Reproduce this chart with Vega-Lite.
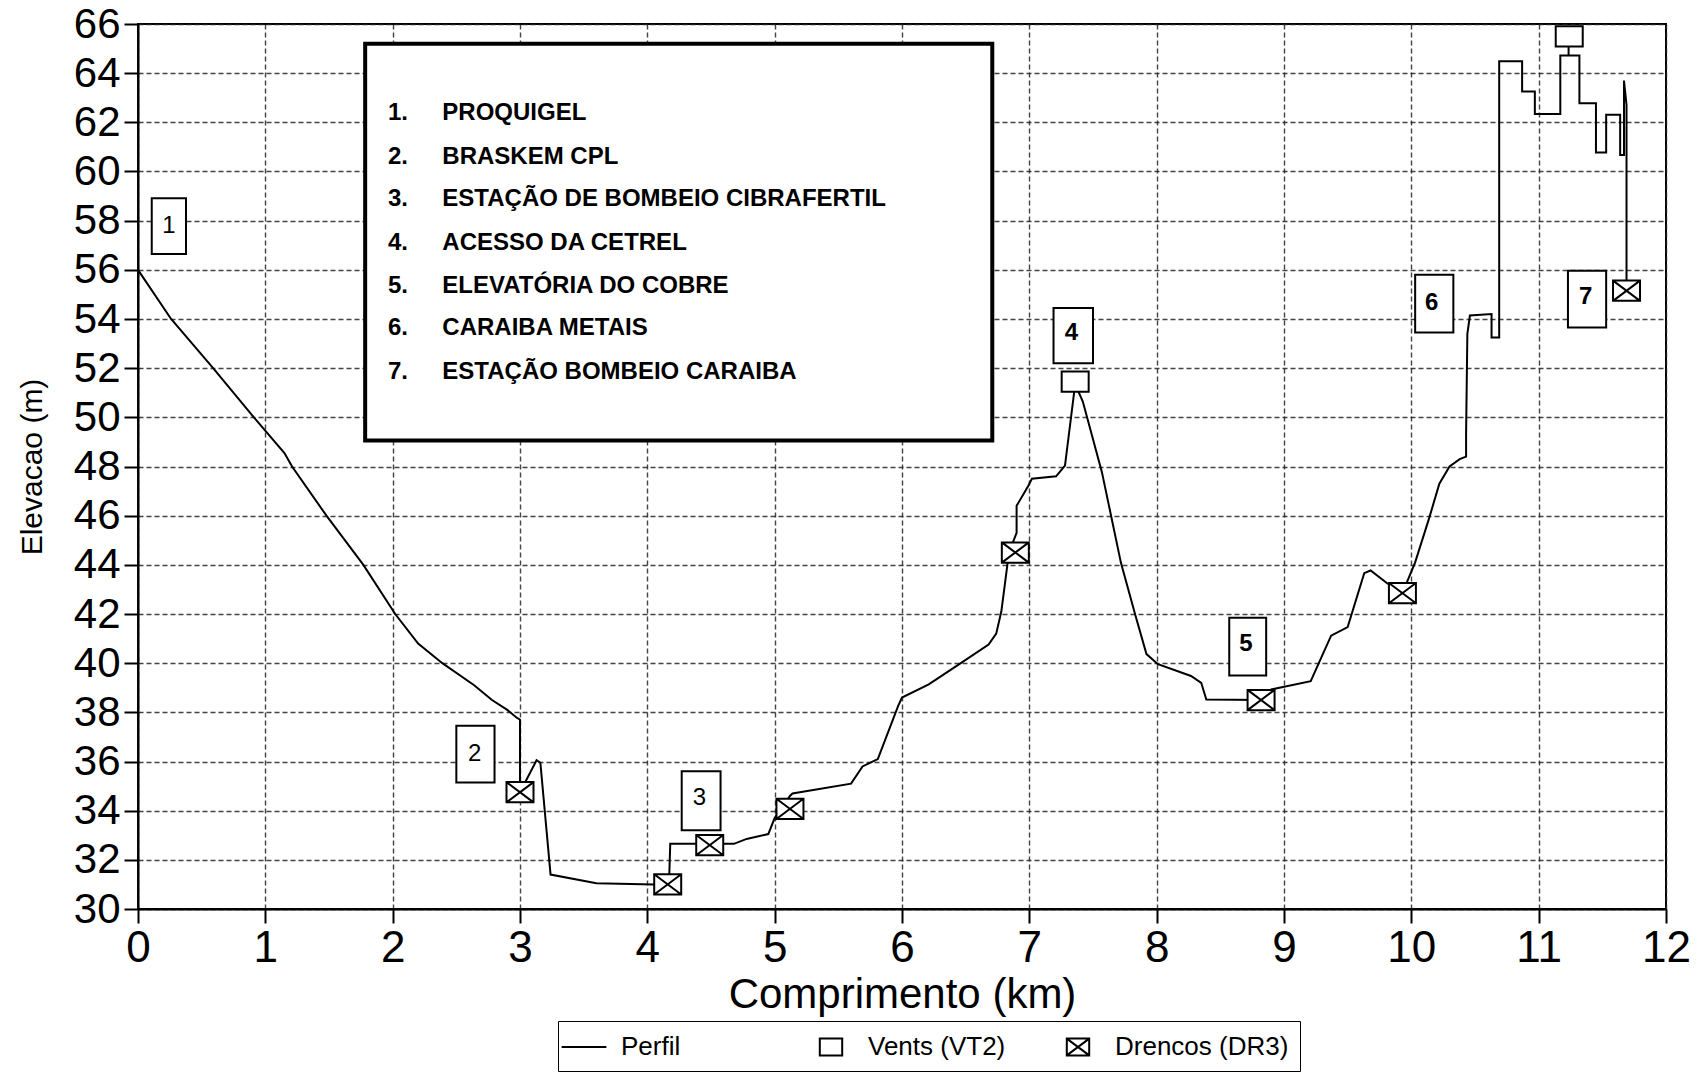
{
  "$schema": "https://vega.github.io/schema/vega-lite/v6.json",
  "autosize": {"type": "none"},
  "padding": {"left": 138, "top": 24, "right": 38, "bottom": 171},
  "width": 1528,
  "height": 885,
  "background": "white",
  "datasets": {
    "perfil": [
      {"km": 0, "m": 56}, {"km": 0.26, "m": 54}, {"km": 0.59, "m": 52}, {"km": 0.91, "m": 50},
      {"km": 1.15, "m": 48.55}, {"km": 1.21, "m": 48}, {"km": 1.48, "m": 46}, {"km": 1.77, "m": 44},
      {"km": 2.02, "m": 42}, {"km": 2.2, "m": 40.8}, {"km": 2.39, "m": 40}, {"km": 2.64, "m": 39.1},
      {"km": 2.78, "m": 38.5}, {"km": 2.9, "m": 38.1}, {"km": 2.97, "m": 37.8}, {"km": 3.0, "m": 37.7},
      {"km": 3.0, "m": 34.75}, {"km": 3.13, "m": 36.05}, {"km": 3.16, "m": 35.95}, {"km": 3.24, "m": 31.4},
      {"km": 3.6, "m": 31.05}, {"km": 4.05, "m": 31.0}, {"km": 4.17, "m": 31.0}, {"km": 4.18, "m": 32.65},
      {"km": 4.49, "m": 32.65}, {"km": 4.68, "m": 32.65}, {"km": 4.78, "m": 32.85}, {"km": 4.95, "m": 33.05},
      {"km": 5.0, "m": 33.7}, {"km": 5.12, "m": 34.6}, {"km": 5.14, "m": 34.7}, {"km": 5.6, "m": 35.1},
      {"km": 5.69, "m": 35.8}, {"km": 5.81, "m": 36.1}, {"km": 5.97, "m": 38.26}, {"km": 6.0, "m": 38.6},
      {"km": 6.21, "m": 39.14}, {"km": 6.45, "m": 39.96}, {"km": 6.68, "m": 40.76}, {"km": 6.74, "m": 41.2},
      {"km": 6.78, "m": 42.1}, {"km": 6.81, "m": 43.3}, {"km": 6.84, "m": 44.5}, {"km": 6.9, "m": 45.3},
      {"km": 6.9, "m": 46.4}, {"km": 6.99, "m": 47.2}, {"km": 7.02, "m": 47.5}, {"km": 7.21, "m": 47.6},
      {"km": 7.28, "m": 48.04}, {"km": 7.36, "m": 51.35}, {"km": 7.42, "m": 50.64}, {"km": 7.57, "m": 47.77},
      {"km": 7.72, "m": 44.07}, {"km": 7.83, "m": 42.0}, {"km": 7.92, "m": 40.37}, {"km": 8.01, "m": 39.96},
      {"km": 8.27, "m": 39.48}, {"km": 8.35, "m": 39.2}, {"km": 8.39, "m": 38.52}, {"km": 8.82, "m": 38.5},
      {"km": 8.9, "m": 38.93}, {"km": 9.21, "m": 39.27}, {"km": 9.37, "m": 41.12}, {"km": 9.5, "m": 41.47},
      {"km": 9.63, "m": 43.66}, {"km": 9.68, "m": 43.77}, {"km": 9.81, "m": 43.25}, {"km": 9.93, "m": 42.85},
      {"km": 10.03, "m": 44.1}, {"km": 10.14, "m": 45.9}, {"km": 10.22, "m": 47.3}, {"km": 10.3, "m": 48.0},
      {"km": 10.38, "m": 48.3}, {"km": 10.43, "m": 48.4}, {"km": 10.43, "m": 49.3}, {"km": 10.44, "m": 53.4},
      {"km": 10.46, "m": 54.14}, {"km": 10.63, "m": 54.2}, {"km": 10.63, "m": 53.25}, {"km": 10.69, "m": 53.25},
      {"km": 10.69, "m": 64.48}, {"km": 10.87, "m": 64.48}, {"km": 10.87, "m": 63.25}, {"km": 10.97, "m": 63.25},
      {"km": 10.97, "m": 62.34}, {"km": 11.17, "m": 62.34}, {"km": 11.17, "m": 64.72}, {"km": 11.235, "m": 64.72},
      {"km": 11.235, "m": 65.4}, {"km": 11.235, "m": 64.72}, {"km": 11.32, "m": 64.72}, {"km": 11.32, "m": 62.78},
      {"km": 11.45, "m": 62.78}, {"km": 11.45, "m": 60.77}, {"km": 11.53, "m": 60.77}, {"km": 11.53, "m": 62.31},
      {"km": 11.64, "m": 62.31}, {"km": 11.64, "m": 60.67}, {"km": 11.67, "m": 60.67}, {"km": 11.67, "m": 63.7},
      {"km": 11.69, "m": 62.7}, {"km": 11.69, "m": 55.15}
    ],
    "marcadores": [
      {"km": 7.36, "m": 51.45, "tipo": "Vents (VT2)"},
      {"km": 11.24, "m": 65.5, "tipo": "Vents (VT2)"},
      {"km": 3.0, "m": 34.75, "tipo": "Drencos (DR3)"},
      {"km": 4.16, "m": 31.0, "tipo": "Drencos (DR3)"},
      {"km": 4.49, "m": 32.6, "tipo": "Drencos (DR3)"},
      {"km": 5.12, "m": 34.07, "tipo": "Drencos (DR3)"},
      {"km": 6.89, "m": 44.5, "tipo": "Drencos (DR3)"},
      {"km": 8.82, "m": 38.5, "tipo": "Drencos (DR3)"},
      {"km": 9.93, "m": 42.85, "tipo": "Drencos (DR3)"},
      {"km": 11.69, "m": 55.15, "tipo": "Drencos (DR3)"}
    ],
    "pontos": [
      {"id": 1, "rot": "1", "x1": 0.108, "x2": 0.377, "y1": 56.64, "y2": 58.91, "tx": 0.243, "ty": 57.78},
      {"id": 2, "rot": "2", "x1": 2.5, "x2": 2.8, "y1": 35.15, "y2": 37.45, "tx": 2.645, "ty": 36.3},
      {"id": 3, "rot": "3", "x1": 4.27, "x2": 4.575, "y1": 33.2, "y2": 35.6, "tx": 4.41, "ty": 34.5},
      {"id": 4, "rot": "4", "x1": 7.19, "x2": 7.5, "y1": 52.2, "y2": 54.45, "tx": 7.33, "ty": 53.45},
      {"id": 5, "rot": "5", "x1": 8.57, "x2": 8.86, "y1": 39.5, "y2": 41.85, "tx": 8.7, "ty": 40.8},
      {"id": 6, "rot": "6", "x1": 10.03, "x2": 10.33, "y1": 53.45, "y2": 55.8, "tx": 10.16, "ty": 54.65},
      {"id": 7, "rot": "7", "x1": 11.23, "x2": 11.53, "y1": 53.65, "y2": 55.96, "tx": 11.37, "ty": 54.9}
    ],
    "caixa": [
      {"x1": 1.784, "x2": 6.709, "y1": 49.06, "y2": 65.2}
    ],
    "lista": [
      {"num": "1.", "nome": "PROQUIGEL", "m": 62.37},
      {"num": "2.", "nome": "BRASKEM CPL", "m": 60.6},
      {"num": "3.", "nome": "ESTAÇÃO DE BOMBEIO  CIBRAFERTIL", "m": 58.88},
      {"num": "4.", "nome": "ACESSO DA CETREL", "m": 57.11},
      {"num": "5.", "nome": "ELEVATÓRIA DO COBRE", "m": 55.34},
      {"num": "6.", "nome": "CARAIBA METAIS", "m": 53.62},
      {"num": "7.", "nome": "ESTAÇÃO BOMBEIO CARAIBA", "m": 51.85}
    ]
  },
  "layer": [
    {
      "data": {"name": "caixa"},
      "mark": {"type": "rect", "fill": "white", "stroke": "black", "strokeWidth": 4},
      "encoding": {
        "x": {"field": "x1", "type": "quantitative", "scale": {"domain": [0, 12], "nice": false, "zero": false},
          "axis": {"values": [0,1,2,3,4,5,6,7,8,9,10,11,12], "format": "d", "title": "Comprimento (km)", "titleFontSize": 42, "titleY": 85, "titleBaseline": "middle", "labelFontSize": 44, "labelPadding": 3, "labelFlush": false, "labelOverlap": false, "grid": true}},
        "x2": {"field": "x2"},
        "y": {"field": "y1", "type": "quantitative", "scale": {"domain": [30, 66], "nice": false, "zero": false},
          "axis": {"values": [30,32,34,36,38,40,42,44,46,48,50,52,54,56,58,60,62,64,66], "format": "d", "title": "Elevacao (m)", "titleFontSize": 30, "titleX": -106, "titleBaseline": "middle", "labelFontSize": 42, "labelPadding": 4, "labelFlush": false, "labelOverlap": false, "grid": true}},
        "y2": {"field": "y2"}
      }
    },
    {
      "data": {"name": "lista"},
      "mark": {"type": "text", "align": "left", "baseline": "middle", "fontSize": 24, "fontWeight": "bold", "font": "Liberation Sans", "color": "black"},
      "encoding": {
        "x": {"datum": 1.963, "type": "quantitative"},
        "y": {"field": "m", "type": "quantitative"},
        "text": {"field": "num"}
      }
    },
    {
      "data": {"name": "lista"},
      "mark": {"type": "text", "align": "left", "baseline": "middle", "fontSize": 24, "fontWeight": "bold", "font": "Liberation Sans", "color": "black"},
      "encoding": {
        "x": {"datum": 2.39, "type": "quantitative"},
        "y": {"field": "m", "type": "quantitative"},
        "text": {"field": "nome"}
      }
    },
    {
      "data": {"name": "pontos"},
      "mark": {"type": "rect", "fill": "white", "stroke": "black", "strokeWidth": 2},
      "encoding": {
        "x": {"field": "x1", "type": "quantitative"},
        "x2": {"field": "x2"},
        "y": {"field": "y1", "type": "quantitative"},
        "y2": {"field": "y2"}
      }
    },
    {
      "data": {"name": "pontos"},
      "transform": [{"filter": "datum.id <= 3"}],
      "mark": {"type": "text", "align": "center", "baseline": "middle", "fontSize": 24, "fontWeight": "normal", "font": "Liberation Sans", "color": "black"},
      "encoding": {
        "x": {"field": "tx", "type": "quantitative"},
        "y": {"field": "ty", "type": "quantitative"},
        "text": {"field": "rot"}
      }
    },
    {
      "data": {"name": "pontos"},
      "transform": [{"filter": "datum.id > 3"}],
      "mark": {"type": "text", "align": "center", "baseline": "middle", "fontSize": 24, "fontWeight": "bold", "font": "Liberation Sans", "color": "black"},
      "encoding": {
        "x": {"field": "tx", "type": "quantitative"},
        "y": {"field": "ty", "type": "quantitative"},
        "text": {"field": "rot"}
      }
    },
    {
      "data": {"name": "perfil"},
      "mark": {"type": "line", "color": "black", "strokeWidth": 2},
      "encoding": {
        "x": {"field": "km", "type": "quantitative"},
        "y": {"field": "m", "type": "quantitative"},
        "order": {"value": null}
      }
    },
    {
      "data": {"name": "marcadores"},
      "mark": {"type": "point", "shape": "M-0.8,-0.6H0.8V0.6H-0.8Z", "filled": true, "color": "white", "opacity": 1, "size": 1139},
      "encoding": {
        "x": {"field": "km", "type": "quantitative"},
        "y": {"field": "m", "type": "quantitative"}
      }
    },
    {
      "data": {"name": "marcadores"},
      "mark": {"type": "point", "filled": false, "color": "black", "opacity": 1, "strokeWidth": 2, "size": 1139},
      "encoding": {
        "x": {"field": "km", "type": "quantitative"},
        "y": {"field": "m", "type": "quantitative"},
        "shape": {
          "field": "tipo", "type": "nominal",
          "scale": {
            "domain": ["Perfil", "Vents (VT2)", "Drencos (DR3)"],
            "range": ["M-1.6,0H1.6", "M-0.8,-0.6H0.8V0.6H-0.8Z", "M-0.8,-0.6H0.8V0.6H-0.8Z M-0.8,-0.6L0.8,0.6 M-0.8,0.6L0.8,-0.6"]
          },
          "legend": {
            "title": null,
            "orient": "none",
            "legendX": 420,
            "legendY": 997,
            "direction": "horizontal",
            "gridAlign": "all",
            "columnPadding": 20,
            "padding": 11,
            "strokeColor": "black",
            "fillColor": "white",
            "labelFont": "Liberation Sans",
            "labelFontSize": 26,
            "labelColor": "black",
            "labelLimit": 400,
            "labelOffset": 22,
            "symbolSize": 784,
            "symbolStrokeWidth": 2,
            "symbolStrokeColor": "black",
            "symbolOpacity": 1
          }
        }
      }
    }
  ],
  "config": {
    "font": "Liberation Sans",
    "view": {"stroke": "black", "strokeWidth": 2},
    "axis": {
      "domainColor": "black", "domainWidth": 2,
      "tickColor": "black", "tickWidth": 2, "tickSize": 14,
      "labelColor": "black", "titleColor": "black",
      "labelFont": "Liberation Sans", "titleFont": "Liberation Sans", "titleFontWeight": "normal",
      "gridColor": "#222222", "gridDash": [5, 3], "gridWidth": 1.4, "gridOpacity": 0.85
    }
  }
}
